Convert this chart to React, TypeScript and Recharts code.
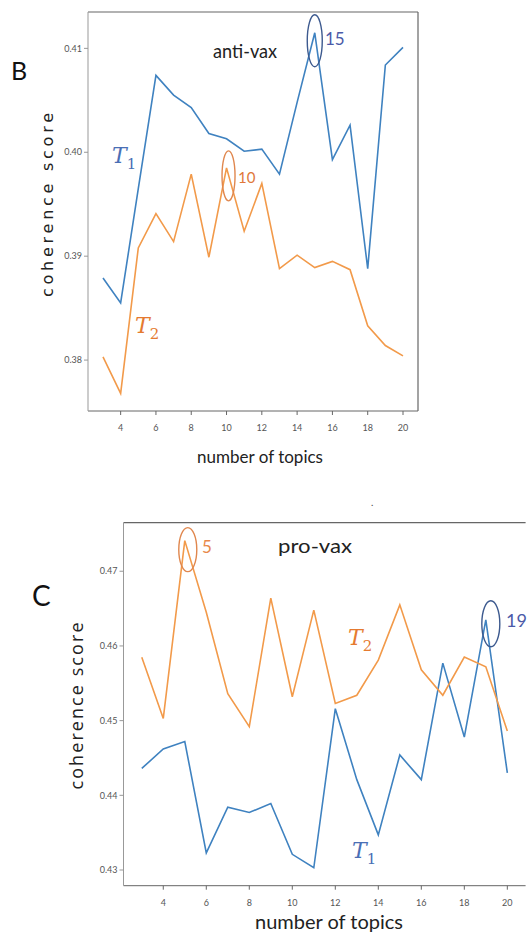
import React from 'react';
import { LineChart, Line, XAxis, YAxis, ReferenceLine, ReferenceDot } from 'recharts';

const topics = [3, 4, 5, 6, 7, 8, 9, 10, 11, 12, 13, 14, 15, 16, 17, 18, 19, 20];
const antiVaxT1 = [0.3879, 0.3855, 0.3965, 0.4074, 0.4055, 0.4043, 0.4018, 0.4013, 0.4001, 0.4003, 0.3979, 0.4048, 0.4115, 0.3993, 0.4026, 0.3888, 0.4084, 0.4101];
const antiVaxT2 = [0.3803, 0.3768, 0.3908, 0.3941, 0.3914, 0.3979, 0.3899, 0.3985, 0.3924, 0.3970, 0.3888, 0.3901, 0.3889, 0.3895, 0.3887, 0.3833, 0.3814, 0.3804];
const proVaxT1 = [0.4436, 0.4462, 0.4472, 0.4323, 0.4384, 0.4377, 0.4389, 0.4321, 0.4303, 0.4516, 0.4421, 0.4347, 0.4454, 0.4421, 0.4577, 0.4478, 0.4635, 0.4430];
const proVaxT2 = [0.4585, 0.4503, 0.4741, 0.4645, 0.4536, 0.4492, 0.4664, 0.4532, 0.4648, 0.4523, 0.4534, 0.4581, 0.4655, 0.4568, 0.4534, 0.4585, 0.4572, 0.4486];

const xTicks = [4, 6, 8, 10, 12, 14, 16, 18, 20];
const antiYTicks = [0.38, 0.39, 0.40, 0.41];
const proYTicks = [0.43, 0.44, 0.45, 0.46, 0.47];
const xDomain = [2.15, 20.85];
const antiYDomain = [0.3751, 0.4135];
const proYDomain = [0.4279, 0.4765];

const BLUE = '#3f82c0';
const ORANGE = '#f29a4a';
const AXIS = '#666';
const TICK_TEXT = '#555';

const antiData = topics.map((t, i) => ({ topic: t, t1: antiVaxT1[i], t2: antiVaxT2[i] }));
const proData = topics.map((t, i) => ({ topic: t, t1: proVaxT1[i], t2: proVaxT2[i] }));

// peak highlight circles (anchored on data points)
const antiCircles = [
  { x: 15, y: antiVaxT1[12], rx: 7.5, ry: 26, dx: 0, dy: 8, color: '#3d5a8f' },
  { x: 10, y: antiVaxT2[7], rx: 6.5, ry: 25, dx: 2, dy: 8, color: '#e0874e' },
];
const proCircles = [
  { x: 5, y: proVaxT2[2], rx: 9, ry: 22, dx: 3, dy: 9, color: '#e0874e' },
  { x: 19, y: proVaxT1[16], rx: 9, ry: 23, dx: 5, dy: 4, color: '#3d5a8f' },
];

type Ann = { x: number; y: number; text: string; sub?: string; color: string; size: number; font: string; italic?: boolean; anchor?: string; len?: number };

const antiTexts: Ann[] = [
  { x: 11.05, y: 0.4091, text: 'anti-vax', color: '#222', size: 19, font: 'Lato', anchor: 'middle', len: 64 },
  { x: 15.58, y: 0.4103, text: '15', color: '#4b5aa8', size: 17, font: 'Lato' },
  { x: 10.65, y: 0.3970, text: '10', color: '#e0783a', size: 15, font: 'Lato' },
  { x: 3.51, y: 0.3990, text: 'T', sub: '1', color: '#4a6fb5', size: 22, font: 'DejaVu Serif', italic: true },
  { x: 4.81, y: 0.3826, text: 'T', sub: '2', color: '#e57a30', size: 22, font: 'DejaVu Serif', italic: true },
];
const proTexts: Ann[] = [
  { x: 11.06, y: 0.47245, text: 'pro-vax', color: '#222', size: 20, font: 'Lato', anchor: 'middle', len: 74 },
  { x: 5.8, y: 0.47245, text: '5', color: '#e8894a', size: 17, font: 'Lato' },
  { x: 19.94, y: 0.46255, text: '19', color: '#4b5aa8', size: 18, font: 'Lato' },
  { x: 12.59, y: 0.4601, text: 'T', sub: '2', color: '#e57a30', size: 22, font: 'DejaVu Serif', italic: true },
  { x: 12.78, y: 0.43164, text: 'T', sub: '1', color: '#4a6fb5', size: 22, font: 'DejaVu Serif', italic: true },
];

const ellipseShape = (c: any) => (p: any) => (
  <ellipse cx={p.cx + c.dx} cy={p.cy + c.dy} rx={c.rx} ry={c.ry} fill="none" stroke={c.color} strokeWidth={1.4} />
);

const textShape = (a: Ann) => (p: any) => (
  <text
    x={p.cx}
    y={p.cy}
    fill={a.color}
    fontSize={a.size}
    fontFamily={a.font}
    fontStyle={a.italic ? 'italic' : 'normal'}
    textAnchor={a.anchor || 'start'}
    {...(a.len ? { textLength: a.len, lengthAdjust: 'spacingAndGlyphs' } : {})}
  >
    {a.text}
    {a.sub ? (
      <tspan fontSize={a.size * 0.68} fontStyle="normal" dy={6}>
        {a.sub}
      </tspan>
    ) : null}
  </text>
);

const tickFmt = (v: number) => v.toFixed(2);

function Panel(props: any) {
  const { data, yDomain, yTicks, circles, texts, width, height, margin, rightSpine, tickFont } = props;
  return (
    <LineChart width={width} height={height} data={data} margin={margin}>
      <XAxis
        dataKey="topic"
        type="number"
        domain={xDomain}
        ticks={xTicks}
        allowDataOverflow
        height={30}
        tickSize={4}
        tickMargin={10}
        stroke={AXIS}
        tick={{ fill: TICK_TEXT, fontSize: tickFont, fontFamily: 'Lato' }}
      />
      <YAxis
        type="number"
        domain={yDomain}
        ticks={yTicks}
        allowDataOverflow
        width={60}
        tickSize={4}
        tickMargin={2}
        stroke="#999"
        tickFormatter={tickFmt}
        tick={{ fill: TICK_TEXT, fontSize: tickFont, fontFamily: 'Lato' }}
      />
      <ReferenceLine y={yDomain[1]} stroke={AXIS} strokeWidth={1.2} ifOverflow="extendDomain" />
      {rightSpine ? <ReferenceLine x={xDomain[1]} stroke={AXIS} strokeWidth={1.2} /> : null}
      <Line type="linear" dataKey="t1" stroke={BLUE} strokeWidth={1.6} dot={false} isAnimationActive={false} />
      <Line type="linear" dataKey="t2" stroke={ORANGE} strokeWidth={1.6} dot={false} isAnimationActive={false} />
      {circles.map((c: any, i: number) => (
        <ReferenceDot key={'c' + i} x={c.x} y={c.y} r={0} shape={ellipseShape(c)} />
      ))}
      {texts.map((a: Ann, i: number) => (
        <ReferenceDot key={'t' + i} x={a.x} y={a.y} r={0} shape={textShape(a)} />
      ))}
    </LineChart>
  );
}

export default function App() {
  return (
    <div style={{ position: 'absolute', left: 0, top: 0, width: 529, height: 937, background: '#fff', overflow: 'hidden' }}>
      <div style={{ position: 'absolute', left: 0, top: 0 }}>
        <Panel
          data={antiData}
          yDomain={antiYDomain}
          yTicks={antiYTicks}
          circles={antiCircles}
          texts={antiTexts}
          width={529}
          height={470}
          margin={{ top: 12, right: 111, bottom: 29, left: 28 }}
          rightSpine
          tickFont={9}
        />
      </div>
      <div style={{ position: 'absolute', left: 0, top: 470 }}>
        <Panel
          data={proData}
          yDomain={proYDomain}
          yTicks={proYTicks}
          circles={proCircles}
          texts={proTexts}
          width={529}
          height={467}
          margin={{ top: 52.7, right: 3.4, bottom: 21.3, left: 63.5 }}
          rightSpine={false}
          tickFont={9}
        />
      </div>
      <svg width={529} height={937} style={{ position: 'absolute', left: 0, top: 0, pointerEvents: 'none' }}>
        <text x={11} y={80} fontSize={25} fontFamily="Lato" fill="#111">B</text>
        <text x={32} y={606} fontSize={28} fontFamily="Lato" fill="#111">C</text>
        <text
          transform="translate(53,205) rotate(-90)"
          textAnchor="middle"
          fontSize={16}
          fontFamily="DejaVu Sans"
          fill="#222"
          textLength={184}
          lengthAdjust="spacing"
        >
          coherence score
        </text>
        <text
          transform="translate(83,706) rotate(-90)"
          textAnchor="middle"
          fontSize={18}
          fontFamily="Open Sans"
          fill="#222"
          textLength={167}
          lengthAdjust="spacing"
        >
          coherence score
        </text>
        <text x={260} y={463} textAnchor="middle" fontSize={18} fontFamily="Lato" fill="#222" textLength={126} lengthAdjust="spacingAndGlyphs">
          number of topics
        </text>
        <text x={329} y={929} textAnchor="middle" fontSize={20} fontFamily="Lato" fill="#222" textLength={148} lengthAdjust="spacingAndGlyphs">
          number of topics
        </text>
        <text x={371} y={506} fontSize={10} fontFamily="Lato" fill="#444">.</text>
      </svg>
    </div>
  );
}
